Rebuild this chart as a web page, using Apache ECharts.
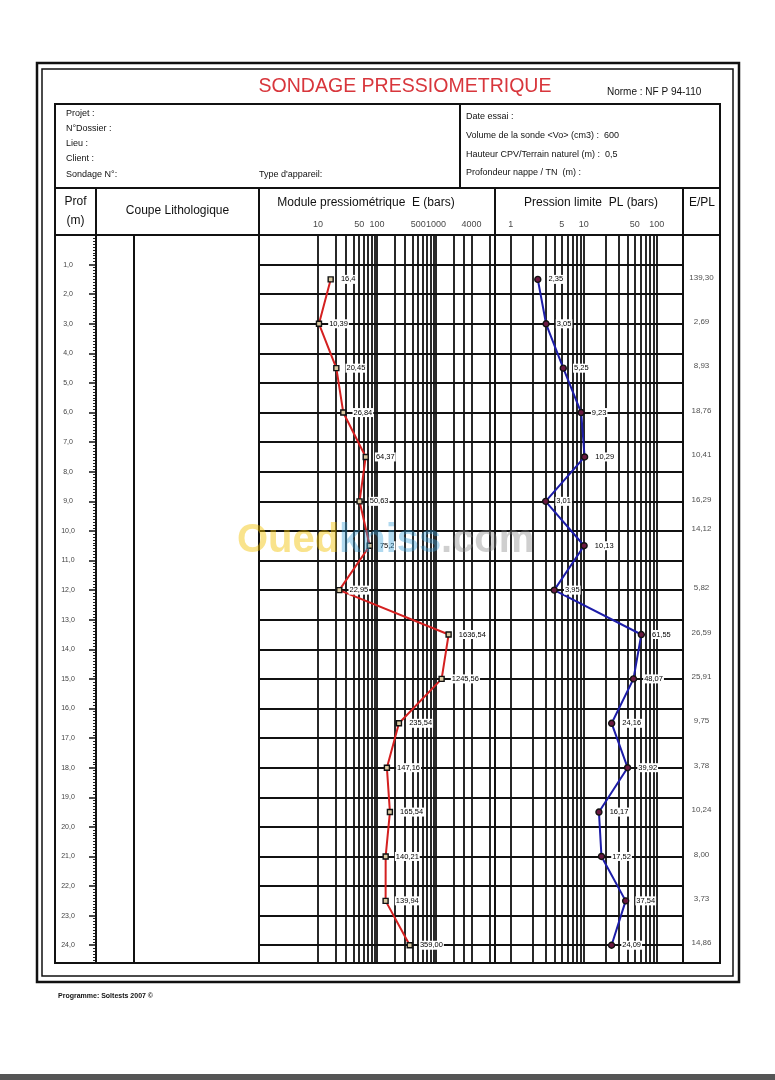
<!DOCTYPE html>
<html><head><meta charset="utf-8">
<script src="https://cdn.jsdelivr.net/npm/echarts@6/dist/echarts.min.js"></script>
<style>html,body{margin:0;padding:0;background:#fff}#c{width:775px;height:1080px}</style>
</head><body><div id="c"></div>
<script>
// ---- data ----
const depths = [1.5, 3, 4.5, 6, 7.5, 9, 10.5, 12, 13.5, 15, 16.5, 18, 19.5, 21, 22.5, 24];
const moduleE = [16.4, 10.39, 20.45, 26.84, 64.37, 50.63, 75.2, 22.95, 1636.54, 1245.56, 235.54, 147.16, 165.54, 140.21, 139.94, 359.00];
const pressionPL = [2.35, 3.05, 5.25, 9.23, 10.29, 3.01, 10.13, 3.95, 61.55, 48.07, 24.16, 39.92, 16.17, 17.52, 37.54, 24.09];
const ratioEPL = [139.30, 2.69, 8.93, 18.76, 10.41, 16.29, 14.12, 5.82, 26.59, 25.91, 9.75, 3.78, 10.24, 8.00, 3.73, 14.86];
const ratioDepths = [1.5, 3, 4.5, 6, 7.5, 9, 10, 12, 13.5, 15, 16.5, 18, 19.5, 21, 22.5, 24];
const eGridValues = [10, 20, 30, 40, 50, 60, 70, 80, 90, 100, 200, 300, 400, 500, 600, 700, 800, 900, 1000, 2000, 3000, 4000, 8000];
const eTickLabels = [10, 50, 100, 500, 1000, 4000];
const plGridValues = [1, 2, 3, 4, 5, 6, 7, 8, 9, 10, 20, 30, 40, 50, 60, 70, 80, 90, 100];
const plTickLabels = [1, 5, 10, 50, 100];
const depthMax = 24.6;

const FONT = '"Liberation Sans", Arial, sans-serif';
const fmtVal = v => (Number.isInteger(v) ? v.toFixed(2) : String(v)).replace('.', ',');
const fmt2 = v => v.toFixed(2).replace('.', ',');

const chart = echarts.init(document.getElementById('c'), null, {renderer: 'canvas'});

function gridLinesSeries(xi, values) {
  return {
    type: 'line', xAxisIndex: xi, yAxisIndex: xi, data: [[values[0], 0]],
    symbol: 'none', lineStyle: {width: 0}, silent: true, z: 1, animation: false,
    markLine: {
      silent: true, symbol: ['none', 'none'], label: {show: false}, animation: false,
      emphasis: {disabled: true},
      lineStyle: {color: '#111', width: 1.8, type: 'solid'},
      data: values.map(v => ({xAxis: v}))
    }
  };
}
function tickLabelSeries(xi, values) {
  return {
    type: 'scatter', xAxisIndex: xi, yAxisIndex: xi, silent: true, clip: false, animation: false,
    data: values.map(v => [v, 0]), symbolSize: 1, itemStyle: {color: 'rgba(0,0,0,0)'},
    label: {show: true, position: 'top', distance: 5, fontSize: 9, fontFamily: FONT, color: '#111',
      formatter: p => String(p.value[0])}
  };
}
function hiddenY(i) {
  return {gridIndex: i, type: 'value', inverse: true, min: 0, max: depthMax, interval: 1,
    axisLine: {show: false}, axisTick: {show: false}, axisLabel: {show: false},
    splitLine: {show: i === 1 || i === 2, lineStyle: {color: '#111', width: 1.8}}};
}
function line(x1, y1, x2, y2, w) {
  return {type: 'line', z: 100, shape: {x1, y1, x2, y2}, style: {stroke: '#111', lineWidth: w || 2}};
}
function txt(t, x, y, size, opts) {
  opts = opts || {};
  return {type: 'text', z: 100, x, y, scaleX: opts.scaleX || 1,
    style: {text: t, fill: opts.fill || '#111', font: (opts.bold ? 'bold ' : '') + size + 'px ' + FONT,
      align: opts.align || 'left', verticalAlign: 'middle', opacity: opts.opacity == null ? 1 : opts.opacity}};
}

const option = {
  animation: false,
  backgroundColor: '#fff',
  grid: [
    {left: 96, top: 235, width: 30, height: 728},
    {left: 259, top: 235, width: 236, height: 728},
    {left: 495, top: 235, width: 188, height: 728},
    {left: 683, top: 235, width: 37, height: 728}
  ],
  xAxis: [
    {gridIndex: 0, type: 'value', min: 0, max: 1, show: false},
    {gridIndex: 1, type: 'log', logBase: 10, min: 1, max: 10000,
      axisLine: {show: false}, axisTick: {show: false}, axisLabel: {show: false}, splitLine: {show: false}},
    {gridIndex: 2, type: 'log', logBase: 10, min: 0.6094, max: 229.2,
      axisLine: {show: false}, axisTick: {show: false}, axisLabel: {show: false}, splitLine: {show: false}},
    {gridIndex: 3, type: 'value', min: 0, max: 1, show: false}
  ],
  yAxis: [
    {gridIndex: 0, type: 'value', inverse: true, min: 0, max: depthMax, interval: 1, position: 'left',
      axisLine: {show: true, lineStyle: {color: '#111', width: 2}},
      axisTick: {show: true, inside: false, length: 7, lineStyle: {color: '#111', width: 1.5}},
      minorTick: {show: true, splitNumber: 10, length: 3, lineStyle: {color: '#222', width: 1}},
      axisLabel: {margin: 28, align: 'center', fontSize: 7, fontFamily: FONT, color: '#444',
        formatter: v => (Math.abs(v - Math.round(v)) < 1e-6 && v > 0.5) ? Math.round(v).toFixed(1).replace('.', ',') : ''},
      splitLine: {show: false}},
    hiddenY(1), hiddenY(2), hiddenY(3)
  ],
  series: [
    gridLinesSeries(1, eGridValues),
    gridLinesSeries(2, plGridValues),
    tickLabelSeries(1, eTickLabels),
    tickLabelSeries(2, plTickLabels),
    {
      type: 'line', name: 'E', xAxisIndex: 1, yAxisIndex: 1, z: 5,
      data: depths.map((d, i) => [moduleE[i], d]),
      symbol: 'rect', symbolSize: 5, showAllSymbol: true,
      lineStyle: {color: '#d42020', width: 2},
      itemStyle: {color: '#d8c8a0', borderColor: '#111', borderWidth: 1.4},
      label: {show: true, position: 'right', distance: 6, fontSize: 7.5, fontFamily: FONT, color: '#000',
        backgroundColor: '#fff', padding: [1, 1, 0, 1], formatter: p => fmtVal(p.value[0])}
    },
    {
      type: 'line', name: 'PL', xAxisIndex: 2, yAxisIndex: 2, z: 5,
      data: depths.map((d, i) => [pressionPL[i], d]),
      symbol: 'circle', symbolSize: 6, showAllSymbol: true,
      lineStyle: {color: '#1c1ca8', width: 2},
      itemStyle: {color: '#6a1840', borderColor: '#111', borderWidth: 1.4},
      label: {show: true, position: 'right', distance: 6, fontSize: 7.5, fontFamily: FONT, color: '#000',
        backgroundColor: '#fff', padding: [1, 1, 0, 1], formatter: p => fmtVal(p.value[0])}
    },
    {
      type: 'scatter', xAxisIndex: 3, yAxisIndex: 3, silent: true,
      data: ratioDepths.map((d, i) => [0.5, d, ratioEPL[i]]),
      symbolSize: 1, itemStyle: {color: 'rgba(0,0,0,0)'},
      label: {show: true, position: 'inside', offset: [0, -2], fontSize: 8, fontFamily: FONT, color: '#222',
        formatter: p => fmt2(p.value[2])}
    }
  ],
  graphic: [
    {type: 'rect', z: 100, shape: {x: 37, y: 63, width: 702, height: 919}, style: {fill: 'none', stroke: '#111', lineWidth: 2.5}},
    {type: 'rect', z: 100, shape: {x: 42, y: 69, width: 691, height: 907}, style: {fill: 'none', stroke: '#111', lineWidth: 1.5}},
    {type: 'rect', z: 100, shape: {x: 55, y: 104, width: 665, height: 859}, style: {fill: 'none', stroke: '#111', lineWidth: 2}},
    line(55, 188, 720, 188), line(55, 235, 720, 235), line(460, 104, 460, 188),
    line(96, 188, 96, 963), line(259, 188, 259, 963), line(495, 188, 495, 963), line(683, 188, 683, 963),
    line(134, 235, 134, 963),
    txt('SONDAGE PRESSIOMETRIQUE', 405, 86, 21, {align: 'center', fill: '#d8363c', scaleX: 0.93}),
    txt('Norme : NF P 94-110', 607, 92, 10),
    txt('Projet :', 66, 114, 9), txt('N°Dossier :', 66, 129, 9), txt('Lieu :', 66, 144, 9),
    txt('Client :', 66, 159, 9), txt('Sondage N°:', 66, 175, 9), txt("Type d'appareil:", 259, 175, 9),
    txt('Date essai :', 466, 117, 9),
    txt('Volume de la sonde <Vo> (cm3) :  600', 466, 136, 9),
    txt('Hauteur CPV/Terrain naturel (m) :  0,5', 466, 155, 9),
    txt('Profondeur nappe / TN  (m) :', 466, 173, 9),
    txt('Prof', 75.5, 202, 12, {align: 'center'}), txt('(m)', 75.5, 221, 12, {align: 'center'}),
    txt('Coupe Lithologique', 177.5, 211, 12, {align: 'center'}),
    txt('Module pressiométrique  E (bars)', 366, 203, 12, {align: 'center'}),
    txt('Pression limite  PL (bars)', 591, 203, 12, {align: 'center'}),
    txt('E/PL', 702, 203, 12, {align: 'center'}),
    txt('Programme: Soltests 2007 ©', 58, 996, 7, {bold: true}),
    txt('Oued', 237, 541, 40, {bold: true, fill: '#f2c200', opacity: 0.45}),
    txt('kniss', 339, 541, 40, {bold: true, fill: '#3aa0d8', opacity: 0.4}),
    txt('.com', 441, 541, 40, {bold: true, fill: '#888888', opacity: 0.4}),
    {type: 'rect', z: 100, shape: {x: 0, y: 1074, width: 775, height: 6}, style: {fill: '#555'}}
  ]
};
chart.setOption(option);
</script>
</body></html>
